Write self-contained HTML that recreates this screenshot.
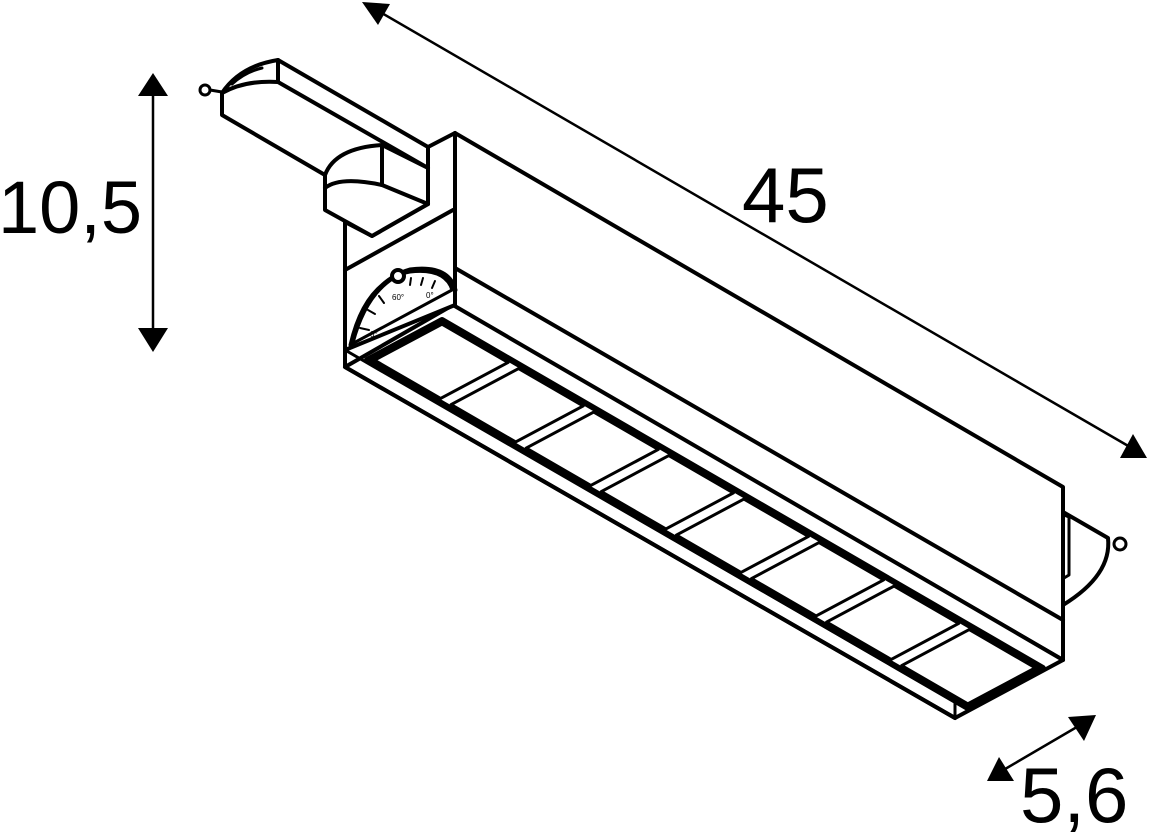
<!DOCTYPE html>
<html><head><meta charset="utf-8"><style>
html,body{margin:0;padding:0;background:#fff;}
svg{display:block;}
text{font-family:"Liberation Sans",sans-serif;fill:#000;}
</style></head><body>
<svg width="1150" height="832" viewBox="0 0 1150 832" xmlns="http://www.w3.org/2000/svg">
<g fill="none" stroke="#000" stroke-width="4" stroke-linejoin="round" stroke-linecap="round">
<path d="M1063,512 L1108,538 Q1112,575 1063,605" fill="#fff"/>
<circle cx="1120" cy="544" r="6" stroke-width="3" fill="#fff"/>
<path d="M1064,515 L1069,517 L1069,575 L1064,578" stroke-width="3"/>
<path d="M455,133 L1063,487 L1063,660 L455,307 Z" fill="#fff"/>
<path d="M455,268 L1063,620"/>
<path d="M345,367 L453,305 L1063,660 L955,718 Z" fill="#fff"/>
<path d="M345,350 L345,367 L955,718"/>
<path d="M345,350 L955,702" stroke-width="3"/>
<path d="M955,702 L955,718" stroke-width="3"/>
<g transform="matrix(75.1,43.5,75,-40,367,360)">
<path d="M0,0 L8,0 L8,1 L0,1 Z" fill="#fff" stroke-width="6" vector-effect="non-scaling-stroke"/>
<g stroke-width="3" fill="#fff">
<path vector-effect="non-scaling-stroke" d="M0.05,0.05 L0.93,0.05 L0.93,0.95 L0.05,0.95 Z"/>
<path vector-effect="non-scaling-stroke" d="M1.07,0.05 L1.93,0.05 L1.93,0.95 L1.07,0.95 Z"/>
<path vector-effect="non-scaling-stroke" d="M2.07,0.05 L2.93,0.05 L2.93,0.95 L2.07,0.95 Z"/>
<path vector-effect="non-scaling-stroke" d="M3.07,0.05 L3.93,0.05 L3.93,0.95 L3.07,0.95 Z"/>
<path vector-effect="non-scaling-stroke" d="M4.07,0.05 L4.93,0.05 L4.93,0.95 L4.07,0.95 Z"/>
<path vector-effect="non-scaling-stroke" d="M5.07,0.05 L5.93,0.05 L5.93,0.95 L5.07,0.95 Z"/>
<path vector-effect="non-scaling-stroke" d="M6.07,0.05 L6.93,0.05 L6.93,0.95 L6.07,0.95 Z"/>
<path vector-effect="non-scaling-stroke" d="M7.07,0.05 L7.95,0.05 L7.95,0.95 L7.07,0.95 Z"/>
</g>
</g>
<path d="M345,222 L372,236 L428,204 L428,147 L455,133 L455,305 L345,350 Z" fill="#fff"/>
<path d="M345,270 L453,210"/>
<path d="M350,345 Q365,280 410,272 Q445,268 452,290 Z" fill="#fff" stroke-width="3"/>
<path d="M352,343 Q368,282 410,270 Q448,265 455,290" stroke-width="5"/>
<circle cx="398" cy="276" r="6" stroke-width="4" fill="#fff"/>
<g stroke-width="2">
<path d="M360,328 L369,330"/><path d="M368,310 L375,314"/><path d="M379,296 L384,303"/>
<path d="M411,278 L410,285"/><path d="M423,278 L421,285"/><path d="M435,281 L432,288"/>
</g>
<path d="M222,93 Q240,66 278,60 L428,147 L428,168 L428,204 L382,185 L382,178 L325,175 L222,115 Z" fill="#fff"/>
<path d="M222,93 Q245,80 278,82 L428,168"/>
<path d="M278,60 L278,82"/>
<path d="M232,84 Q245,72 262,68" stroke-width="3"/>
<circle cx="205" cy="90" r="5" stroke-width="3" fill="#fff"/>
<path d="M210,90 L222,92" stroke-width="3"/>
<path d="M325,175 Q335,148 382,145 L428,168 L428,204 L372,236 L325,210 Z" fill="#fff"/>
<path d="M382,145 L382,185"/>
<path d="M325,188 Q340,176 382,185 L428,204"/>
</g>
<g stroke="#000" stroke-width="2.5">
<line x1="153" y1="95" x2="153" y2="330"/>
<line x1="380" y1="12" x2="1130" y2="447"/>
<line x1="1000" y1="772" x2="1082" y2="724"/>
</g>
<g fill="#000">
<polygon points="153,73 138,96 168,96"/>
<polygon points="153,352 138,328 168,328"/>
<polygon points="362,2 390,4 378,25"/>
<polygon points="1147,458 1120,458 1133,434"/>
<polygon points="987,781 1014,781 999,757"/>
<polygon points="1096,715 1084,741 1068,717"/>
</g>
<text x="-2" y="233" font-size="74">10,5</text>
<text x="742" y="222" font-size="78">45</text>
<text x="1020" y="822" font-size="78">5,6</text>
<text x="392" y="300" font-size="8">60°</text>
<text x="426" y="298" font-size="8">0°</text>
<text x="370" y="337" font-size="8">0°</text>
</svg>
</body></html>
